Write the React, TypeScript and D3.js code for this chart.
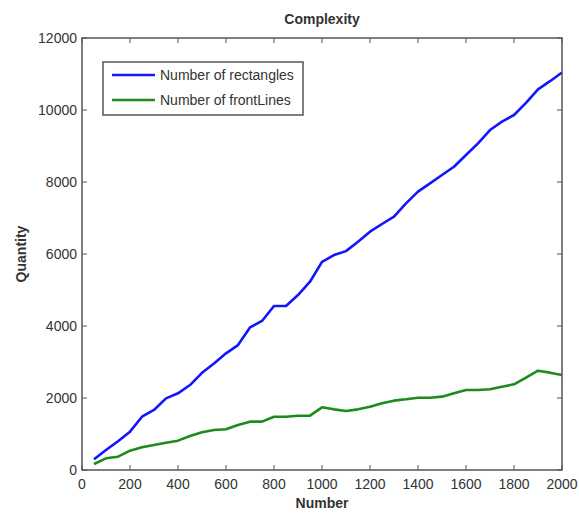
import { useEffect, useRef } from "react";
import * as d3 from "d3";

// sample positions (every 50 from 50 to 2000)
const numbers = d3.range(50, 2001, 50);

const rectangles = [
  300, 555, 800, 1065, 1480, 1667, 1990, 2130, 2360, 2700,
  2960, 3240, 3470, 3960, 4140, 4555, 4555, 4860, 5230, 5780,
  5970, 6080, 6342, 6620, 6833, 7037, 7407, 7731, 7963, 8194,
  8425, 8750, 9074, 9444, 9676, 9861, 10200, 10574, 10800, 11040
];

const frontLines = [
  167, 324, 370, 537, 630, 694, 759, 815, 944, 1046,
  1111, 1130, 1250, 1343, 1343, 1481, 1481, 1509, 1509, 1741,
  1685, 1639, 1685, 1759, 1852, 1926, 1963, 2009, 2009, 2037,
  2130, 2222, 2222, 2241, 2315, 2380, 2565, 2759, 2704, 2639
];

const xTicks = [0, 200, 400, 600, 800, 1000, 1200, 1400, 1600, 1800, 2000];
const yTicks = [0, 2000, 4000, 6000, 8000, 10000, 12000];

const seriesNames = ["Number of rectangles", "Number of frontLines"];
const seriesColors = ["#1414ff", "#1e8a1e"];

const W = 579;
const H = 514;
const margin = { left: 82, top: 38, right: 17, bottom: 44 };
const font = "'Liberation Sans Narrow', 'Liberation Sans', Arial, sans-serif";

export default function App() {
  const ref = useRef<SVGSVGElement | null>(null);

  useEffect(() => {
    if (!ref.current) return;
    const svg = d3.select(ref.current);
    svg.selectAll("*").remove();

    const x = d3.scaleLinear().domain([0, 2000]).range([margin.left, W - margin.right]);
    const y = d3.scaleLinear().domain([0, 12000]).range([H - margin.bottom, margin.top]);
    const [x0, x1] = x.range();
    const [y0, y1] = y.range();

    svg.append("rect").attr("width", W).attr("height", H).attr("fill", "#fff");

    // lines
    const line = d3
      .line<number>()
      .x((_, i) => x(numbers[i]))
      .y((d) => y(d));
    [rectangles, frontLines].forEach((s, i) => {
      svg
        .append("path")
        .datum(s)
        .attr("d", line)
        .attr("fill", "none")
        .attr("stroke", seriesColors[i])
        .attr("stroke-width", 2.6)
        .attr("stroke-linejoin", "round");
    });

    // frame
    svg
      .append("rect")
      .attr("x", x0)
      .attr("y", y1)
      .attr("width", x1 - x0)
      .attr("height", y0 - y1)
      .attr("fill", "none")
      .attr("stroke", "#555")
      .attr("stroke-width", 1.5);

    const tickLen = 5;
    const axisColor = "#555";
    // x ticks (bottom & top, inward)
    xTicks.forEach((t) => {
      const px = x(t);
      svg.append("line").attr("x1", px).attr("x2", px).attr("y1", y0).attr("y2", y0 - tickLen).attr("stroke", axisColor);
      svg.append("line").attr("x1", px).attr("x2", px).attr("y1", y1).attr("y2", y1 + tickLen).attr("stroke", axisColor);
      svg
        .append("text")
        .attr("x", px)
        .attr("y", y0 + 19)
        .attr("text-anchor", "middle")
        .attr("font-family", font)
        .attr("font-size", 14)
        .attr("fill", "#333")
        .text(String(t));
    });
    // y ticks (left & right, inward)
    yTicks.forEach((t) => {
      const py = y(t);
      svg.append("line").attr("x1", x0).attr("x2", x0 + tickLen).attr("y1", py).attr("y2", py).attr("stroke", axisColor);
      svg.append("line").attr("x1", x1).attr("x2", x1 - tickLen).attr("y1", py).attr("y2", py).attr("stroke", axisColor);
      svg
        .append("text")
        .attr("x", x0 - 5)
        .attr("y", py + 5)
        .attr("text-anchor", "end")
        .attr("font-family", font)
        .attr("font-size", 14)
        .attr("fill", "#333")
        .text(String(t));
    });

    // titles
    svg
      .append("text")
      .attr("x", (x0 + x1) / 2)
      .attr("y", 24)
      .attr("text-anchor", "middle")
      .attr("font-family", font)
      .attr("font-size", 14)
      .attr("font-weight", "bold")
      .attr("fill", "#333")
      .text("Complexity");
    svg
      .append("text")
      .attr("x", (x0 + x1) / 2)
      .attr("y", 508)
      .attr("text-anchor", "middle")
      .attr("font-family", font)
      .attr("font-size", 14)
      .attr("font-weight", "bold")
      .attr("fill", "#333")
      .text("Number");
    svg
      .append("text")
      .attr("transform", `translate(26,${(y0 + y1) / 2}) rotate(-90)`)
      .attr("text-anchor", "middle")
      .attr("font-family", font)
      .attr("font-size", 14)
      .attr("font-weight", "bold")
      .attr("fill", "#333")
      .text("Quantity");

    // legend
    const lg = svg.append("g");
    lg.append("rect")
      .attr("x", 103)
      .attr("y", 62)
      .attr("width", 200)
      .attr("height", 53)
      .attr("fill", "#fff")
      .attr("stroke", "#555")
      .attr("stroke-width", 1.5);
    seriesNames.forEach((name, i) => {
      const ly = 75 + i * 25;
      lg.append("line")
        .attr("x1", 112)
        .attr("x2", 155)
        .attr("y1", ly)
        .attr("y2", ly)
        .attr("stroke", seriesColors[i])
        .attr("stroke-width", 2.6);
      lg.append("text")
        .attr("x", 160)
        .attr("y", ly + 5)
        .attr("font-family", font)
        .attr("font-size", 14)
        .attr("fill", "#333")
        .text(name);
    });
  }, []);

  return (
    <svg
      ref={ref}
      width={W}
      height={H}
      style={{ position: "absolute", left: 0, top: 0, display: "block" }}
    />
  );
}
